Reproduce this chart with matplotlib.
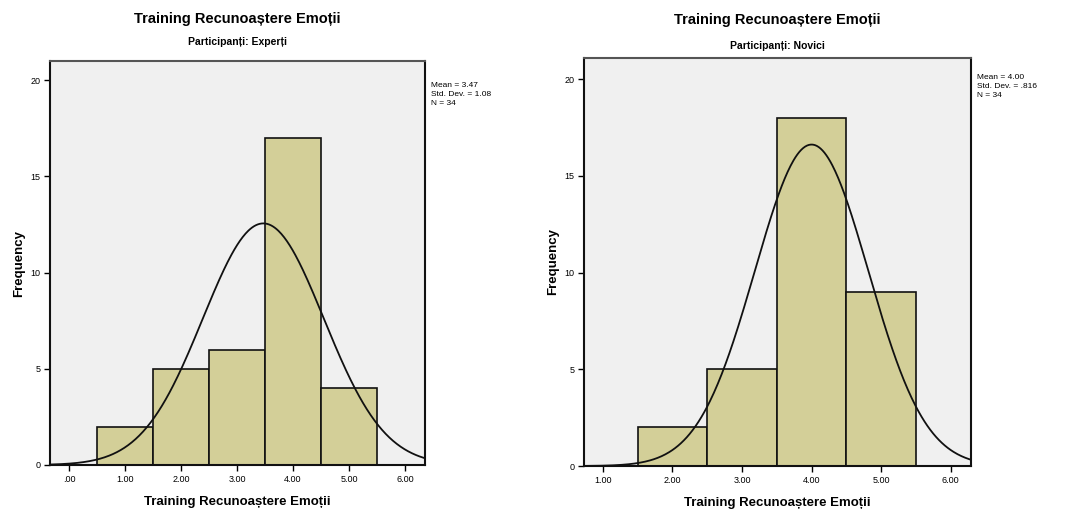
import numpy as np
import matplotlib
matplotlib.use("Agg")
import matplotlib.pyplot as plt

plt.rcParams['font.family'] = ['Liberation Sans Narrow', 'Liberation Sans', 'DejaVu Sans']

title = "Training Recunoaștere Emoții"
xlabel = "Training Recunoaștere Emoții"
ylabel = "Frequency"

# Experți
exp_bins = [1, 2, 3, 4, 5]
exp_counts = [2, 5, 6, 17, 4]
exp_subtitle = "Participanți: Experți"
exp_stats = "Mean = 3.47\nStd. Dev. = 1.08\nN = 34"
exp_mean, exp_sd, exp_n = 3.47, 1.08, 34
exp_xticks = [0, 1, 2, 3, 4, 5, 6]
exp_xticklabels = [".00", "1.00", "2.00", "3.00", "4.00", "5.00", "6.00"]

# Novici
nov_bins = [2, 3, 4, 5]
nov_counts = [2, 5, 18, 9]
nov_subtitle = "Participanți: Novici"
nov_stats = "Mean = 4.00\nStd. Dev. = .816\nN = 34"
nov_mean, nov_sd, nov_n = 4.00, 0.816, 34
nov_xticks = [1, 2, 3, 4, 5, 6]
nov_xticklabels = ["1.00", "2.00", "3.00", "4.00", "5.00", "6.00"]

yticks = [0, 5, 10, 15, 20]
yticklabels = ["0", "5", "10", "15", "20"]

bar_color = "#D3CF98"
bg_color = "#F0F0F0"

fig = plt.figure(figsize=(10.67, 5.12), dpi=100)

panels = [
    dict(rect=[0.0469, 0.0918, 0.3515, 0.789], bins=exp_bins, counts=exp_counts,
         sub=exp_subtitle, stats=exp_stats, mean=exp_mean, sd=exp_sd, n=exp_n,
         xlim=(-0.34, 6.36), ylim=(0, 21.0), xt=exp_xticks, xtl=exp_xticklabels,
         stats_y=0.948, title_y=0.963, sub_y=0.918),
    dict(rect=[0.5473, 0.0898, 0.3627, 0.797], bins=nov_bins, counts=nov_counts,
         sub=nov_subtitle, stats=nov_stats, mean=nov_mean, sd=nov_sd, n=nov_n,
         xlim=(0.73, 6.29), ylim=(0, 21.1), xt=nov_xticks, xtl=nov_xticklabels,
         stats_y=0.96, title_y=0.961, sub_y=0.910),
]

for p in panels:
    ax = fig.add_axes(p['rect'])
    ax.set_facecolor(bg_color)
    ax.bar(p['bins'], p['counts'], width=1.0, color=bar_color,
           edgecolor="#111111", linewidth=1.2, zorder=2)
    xs = np.linspace(p['xlim'][0], p['xlim'][1], 400)
    ys = p['n'] * 1.0 * np.exp(-0.5 * ((xs - p['mean']) / p['sd']) ** 2) / (p['sd'] * np.sqrt(2 * np.pi))
    ax.plot(xs, ys, color="#111111", linewidth=1.3, zorder=3)
    ax.set_xlim(*p['xlim'])
    ax.set_ylim(*p['ylim'])
    ax.set_xticks(p['xt'])
    ax.set_xticklabels(p['xtl'], fontsize=6.5)
    ax.set_yticks(yticks)
    ax.set_yticklabels(yticklabels, fontsize=6.5)
    ax.tick_params(direction='out', length=4, width=1, pad=3)
    for s in ax.spines.values():
        s.set_linewidth(1.5)
        s.set_color("#111111")
    ax.spines['top'].set_color("#555555")
    ax.set_xlabel(xlabel, fontsize=9.5, fontweight='bold', labelpad=9)
    ax.set_ylabel(ylabel, fontsize=9.5, fontweight='bold', labelpad=4)
    cx = p['rect'][0] + p['rect'][2] / 2
    fig.text(cx, p['title_y'], title, ha='center', va='center',
             fontsize=10.5, fontweight='bold')
    fig.text(cx, p['sub_y'], p['sub'], ha='center', va='center',
             fontsize=7.5, fontweight='bold')
    ax.text(1.015, p['stats_y'], p['stats'], transform=ax.transAxes, ha='left', va='top',
            fontsize=6, linespacing=1.35)

fig.savefig("out.png", dpi=100)
